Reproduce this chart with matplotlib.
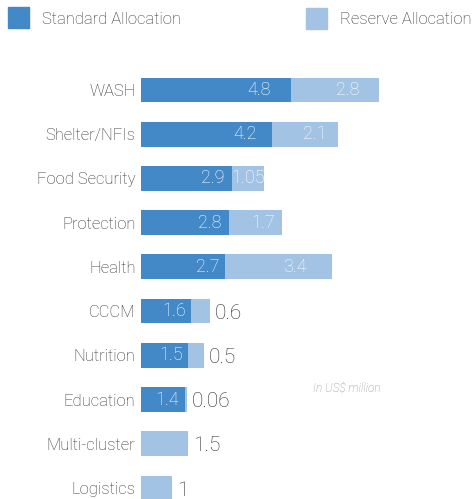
import matplotlib
matplotlib.use("Agg")
import matplotlib.pyplot as plt
from matplotlib.patches import Rectangle

categories = ["WASH", "Shelter/NFIs", "Food Security", "Protection", "Health",
              "CCCM", "Nutrition", "Education", "Multi-cluster", "Logistics"]
standard = [4.8, 4.2, 2.9, 2.8, 2.7, 1.6, 1.5, 1.4, 0, 0]
reserve = [2.8, 2.1, 1.05, 1.7, 3.4, 0.6, 0.5, 0.06, 1.5, 1]
reserve_labels = ["2.8", "2.1", "1.05", "1.7", "3.4", "0.6", "0.5", "0.06", "1.5", "1"]
standard_labels = ["4.8", "4.2", "2.9", "2.8", "2.7", "1.6", "1.5", "1.4", "", ""]
reserve_inside = [True, True, True, True, True, False, False, False, False, False]

C_STD = "#4389C8"
C_RES = "#A3C3E5"
TXT = "#333333"
FONT = "Roboto"
W = "light"

W_PX, H_PX = 475, 499
fig = plt.figure(figsize=(W_PX / 100, H_PX / 100), dpi=100)
ax_left, ax_right = 141, 472
ax_top, ax_bot = 60, 499
ax = fig.add_axes([ax_left / W_PX, 1 - ax_bot / H_PX,
                   (ax_right - ax_left) / W_PX, (ax_bot - ax_top) / H_PX])
px_per_unit = 31.25
ax.set_xlim(0, (ax_right - ax_left) / px_per_unit)
step = 44.22
ax.set_ylim((ax_bot - 90) / step, -(90 - ax_top) / step)
y = list(range(len(categories)))
h = 0.56
ax.barh(y, standard, height=h, color=C_STD)
ax.barh(y, reserve, left=standard, height=h, color=C_RES)
for i in y:
    s, r = standard[i], reserve[i]
    if standard_labels[i]:
        xc = s * 0.79 if s > 2 else s - 0.55
        ax.text(xc, i, standard_labels[i], ha="center", va="center",
                color="white", fontsize=13, family=FONT, weight=W)
    if reserve_inside[i]:
        xc = s + r * 0.65 if r > 1.2 else s + r * 0.5
        ax.text(xc, i, reserve_labels[i], ha="center", va="center",
                color="white", fontsize=13, family=FONT, weight=W)
    else:
        ax.text(s + r + 0.16, i + 0.05, reserve_labels[i], ha="left", va="center",
                color="#2e2e2e", fontsize=15, family=FONT, weight=W)
ax.set_yticks(y)
ax.set_yticklabels(categories, family=FONT, weight=W, fontsize=12, color=TXT)
ax.tick_params(axis="y", length=0, pad=4)
ax.set_xticks([])
for sp in ax.spines.values():
    sp.set_visible(False)

ax.text(0.52, 0.253, "In US$ million", transform=ax.transAxes, fontsize=8.5,
        style="italic", color="#8a8a8a", family=FONT, weight=W,
        ha="left", va="center")

# legend
fig.patches.append(Rectangle((8 / W_PX, 1 - 28 / H_PX), 21 / W_PX, 21 / H_PX,
                             transform=fig.transFigure, color=C_STD))
fig.patches.append(Rectangle((306 / W_PX, 1 - 29 / H_PX), 21 / W_PX, 21 / H_PX,
                             transform=fig.transFigure, color=C_RES))
fig.text(42 / W_PX, 1 - 19 / H_PX, "Standard Allocation", fontsize=12,
         family=FONT, weight=W, color=TXT, va="center", ha="left")
fig.text(340 / W_PX, 1 - 20 / H_PX, "Reserve Allocation", fontsize=12,
         family=FONT, weight=W, color=TXT, va="center", ha="left")

fig.savefig("out.png", dpi=100)
